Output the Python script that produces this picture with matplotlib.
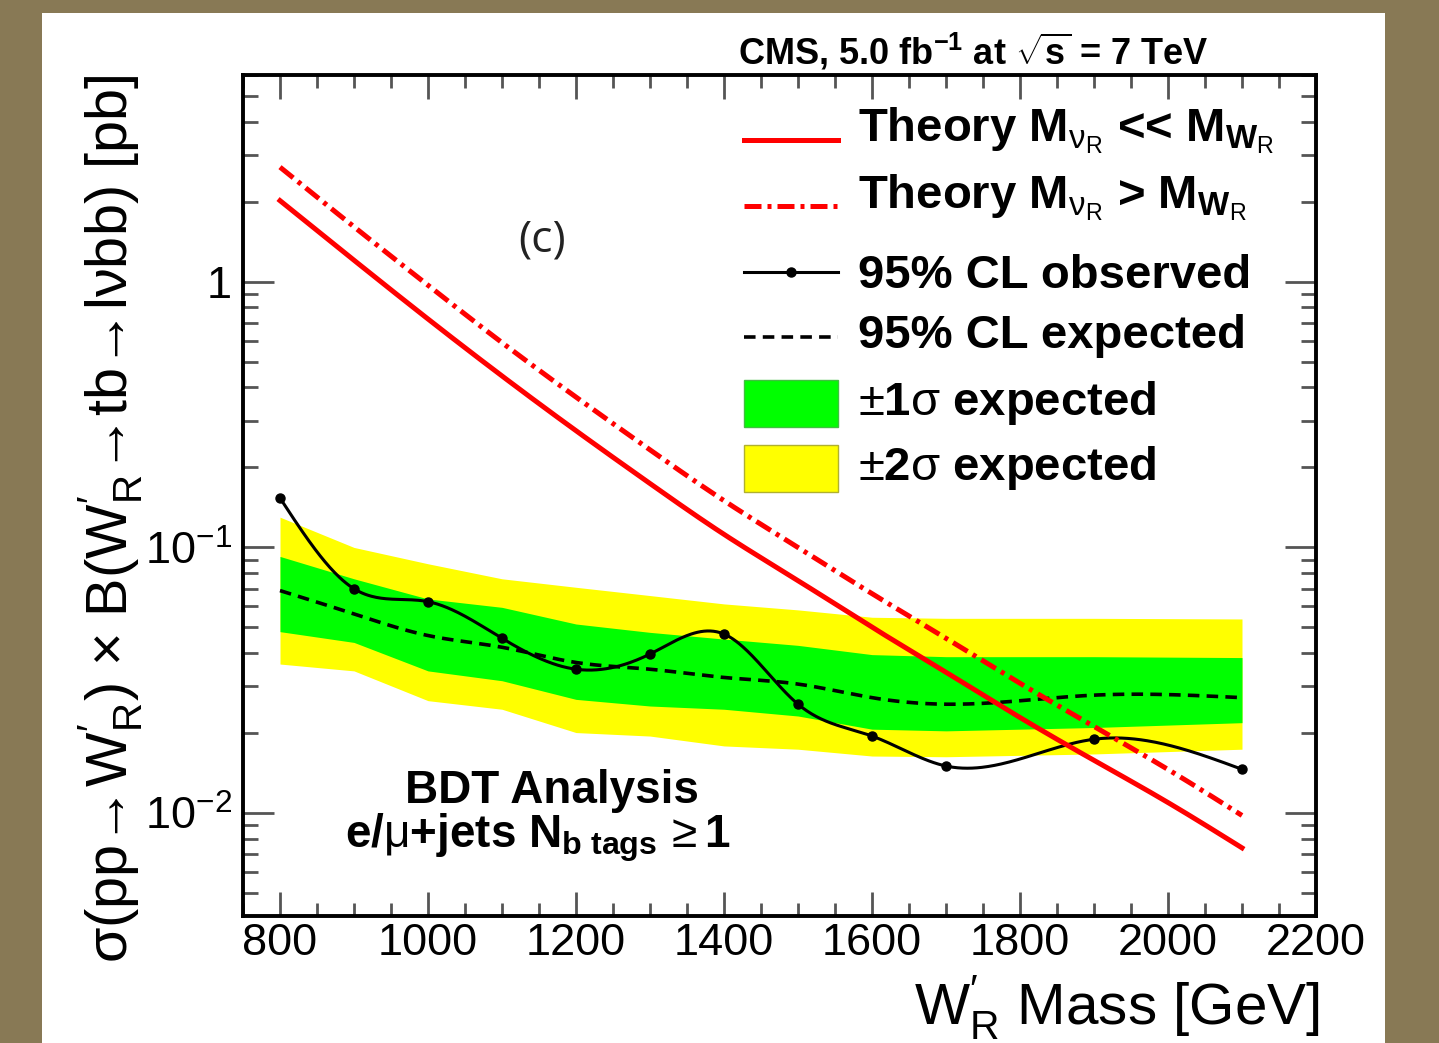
import numpy as np
import matplotlib
matplotlib.use("Agg")
import matplotlib.pyplot as plt
from matplotlib.patches import Rectangle
from matplotlib.ticker import LogLocator, FuncFormatter, NullFormatter, MultipleLocator

plt.rcParams['font.family'] = ['Liberation Sans', 'DejaVu Sans']
plt.rcParams['mathtext.fontset'] = 'custom'
plt.rcParams['mathtext.rm'] = 'Liberation Sans'
plt.rcParams['mathtext.bf'] = 'Liberation Sans:bold'
plt.rcParams['mathtext.it'] = 'Liberation Sans:italic'
plt.rcParams['mathtext.sf'] = 'Liberation Sans'

# ---------------- data ----------------
mass = [800, 900, 1000, 1100, 1200, 1300, 1400, 1500, 1600, 1700, 1900, 2100]
observed = [0.1535, 0.0699, 0.0625, 0.0455, 0.0348, 0.0397, 0.0472, 0.0257,
            0.0195, 0.01504, 0.01897, 0.01462]
expected = [0.0688, 0.0562, 0.0466, 0.0421, 0.0369, 0.0348, 0.0324, 0.0306,
            0.0272, 0.0257, 0.0278, 0.0272]
one_sigma_up = [0.0925, 0.0762, 0.0640, 0.0595, 0.0515, 0.0479, 0.0452, 0.0428,
                0.0395, 0.0388, 0.0388, 0.0385]
one_sigma_dn = [0.0482, 0.0439, 0.0343, 0.0315, 0.0268, 0.0253, 0.0246, 0.0232,
                0.0207, 0.0204, 0.0210, 0.0219]
two_sigma_up = [0.130, 0.100, 0.0868, 0.0762, 0.0708, 0.0659, 0.0613, 0.0582,
                0.0546, 0.0541, 0.0541, 0.0538]
two_sigma_dn = [0.0364, 0.0343, 0.0265, 0.0246, 0.0201, 0.0195, 0.0179, 0.0174,
                0.0164, 0.0163, 0.0167, 0.0174]

theory_mass = [800, 900, 1000, 1100, 1200, 1300, 1400, 1500, 1600, 1700, 1800,
               1900, 2000, 2100]
theory_light_nu = [2.02, 1.205, 0.724, 0.442, 0.275, 0.174, 0.112, 0.0750,
                   0.0501, 0.0339, 0.0229, 0.0158, 0.01096, 0.0074]
theory_heavy_nu = [2.70, 1.61, 0.97, 0.59, 0.368, 0.233, 0.150, 0.100,
                   0.0670, 0.0455, 0.0308, 0.0212, 0.0146, 0.0098]

x_ticks = [800, 1000, 1200, 1400, 1600, 1800, 2000, 2200]

legend_labels = [
    r"$\mathbf{Theory\ M}_{\mathrm{\nu}_{\mathrm{R}}}$ << $\mathbf{M}_{\mathbf{W}_{\mathrm{R}}}$",
    r"$\mathbf{Theory\ M}_{\mathrm{\nu}_{\mathrm{R}}}$ > $\mathbf{M}_{\mathbf{W}_{\mathrm{R}}}$",
    "95% CL observed",
    "95% CL expected",
    r"$\mathrm{\pm}\mathbf{1}\mathrm{σ}$ expected",
    r"$\mathrm{\pm}\mathbf{2}\mathrm{σ}$ expected",
]


def natural_spline_log(x, y, xs):
    x = np.asarray(x, float)
    y = np.log10(np.asarray(y, float))
    n = len(x)
    h = np.diff(x)
    A = np.zeros((n, n))
    b = np.zeros(n)
    A[0, 0] = A[-1, -1] = 1.0
    for i in range(1, n - 1):
        A[i, i - 1] = h[i - 1]
        A[i, i] = 2 * (h[i - 1] + h[i])
        A[i, i + 1] = h[i]
        b[i] = 3 * ((y[i + 1] - y[i]) / h[i] - (y[i] - y[i - 1]) / h[i - 1])
    c = np.linalg.solve(A, b)
    bb = (y[1:] - y[:-1]) / h - h * (2 * c[:-1] + c[1:]) / 3
    d = (c[1:] - c[:-1]) / (3 * h)
    idx = np.clip(np.searchsorted(x, xs) - 1, 0, n - 2)
    dx = xs - x[idx]
    ys = y[idx] + bb[idx] * dx + c[idx] * dx ** 2 + d[idx] * dx ** 3
    return 10 ** ys


W, H = 1439, 1043
fig = plt.figure(figsize=(W / 100, H / 100), dpi=100, facecolor='#887955')
fig.patches.append(Rectangle((42 / W, 0), (1385 - 42) / W, (H - 13) / H,
                             transform=fig.transFigure, facecolor='white',
                             edgecolor='none', zorder=-10))

ax = fig.add_axes([243 / W, (H - 916) / H, (1316 - 243) / W, (916 - 75) / H])
ax.set_yscale('log')
ax.set_xlim(750, 2200)
ax.set_ylim(0.0041, 6.0)

# bands
ax.fill_between(mass, two_sigma_dn, two_sigma_up, color='#ffff00', lw=0, zorder=1)
ax.fill_between(mass, one_sigma_dn, one_sigma_up, color='#00ff00', lw=0, zorder=2)

xs = np.linspace(800, 2100, 600)
ax.plot(xs, natural_spline_log(mass, expected, xs), color='black', lw=2.6,
        dashes=(3.2, 2.0), zorder=3)
ax.plot(xs, natural_spline_log(mass, observed, xs), color='black', lw=2.2, zorder=4)
ax.plot(mass, observed, 'o', color='black', ms=6.5, zorder=5)

ax.plot(xs, natural_spline_log(theory_mass, theory_light_nu, xs), color='#ff0000',
        lw=3.6, zorder=6)
ax.plot(xs, natural_spline_log(theory_mass, theory_heavy_nu, xs), color='#ff0000',
        lw=3.6, dashes=(3.4, 1.2, 0.8, 1.2), zorder=6)

# axes styling
for s in ax.spines.values():
    s.set_linewidth(2.8)
    s.set_color('black')
ax.xaxis.set_major_locator(matplotlib.ticker.FixedLocator(x_ticks))
ax.xaxis.set_minor_locator(MultipleLocator(50))
ax.yaxis.set_major_locator(LogLocator(base=10, numticks=10))
ax.yaxis.set_minor_locator(LogLocator(base=10, subs=np.arange(2, 10), numticks=20))
ax.yaxis.set_minor_formatter(NullFormatter())


def yfmt(v, pos):
    if abs(v - 1) < 1e-9:
        return '1'
    e = int(round(np.log10(v)))
    return r'$\mathregular{10^{%d}}$' % e


ax.yaxis.set_major_formatter(FuncFormatter(yfmt))
ax.xaxis.set_major_formatter(FuncFormatter(lambda v, p: '%d' % v))
ax.tick_params(which='both', direction='in', top=True, right=True,
               color='#555555', width=2.0)
ax.tick_params(axis='x', which='major', length=17.3, labelsize=32.5, pad=5)
ax.tick_params(axis='x', which='minor', length=9.4)
ax.tick_params(axis='y', which='major', length=22.3, labelsize=32.5, pad=8)
ax.tick_params(axis='y', which='minor', length=10.8)

# axis titles
fig.text(1320 / W, (H - 1024) / H, r"W$^{\prime}_{\mathregular{R}}$ Mass [GeV]",
         ha='right', va='baseline', fontsize=42)
fig.text(110 / W, (H - 75) / H,
         r"σ(pp→W$^{\prime}_{\mathregular{R}}$) × B(W$^{\prime}_{\mathregular{R}}$→tb→lνbb) [pb]",
         rotation=90, ha='center', va='top', fontsize=41.5)

# header
fig.text(738 / W, (H - 65) / H,
         r"CMS, 5.0 fb$^{\mathbf{-1}}$ at $\sqrt{\mathbf{s}}$ = 7 TeV",
         ha='left', va='baseline', fontsize=26, fontweight='bold')

# annotations inside axes
def fx(px):
    return (px - 243) / 1073


def fy(py):
    return (916 - py) / 841


ax.text(fx(542), fy(240), "(c)", transform=ax.transAxes, ha='center', va='center',
        fontsize=32, family=['Open Sans', 'DejaVu Sans'], color='#222222')
ax.text(fx(552), fy(803), "BDT Analysis", transform=ax.transAxes, ha='center',
        va='baseline', fontsize=33, fontweight='bold')
ax.text(fx(538), fy(848),
        r"$\mathbf{e/}\mathrm{\mu}\mathbf{+jets\ N}_{\mathbf{b\ tags}}\,\mathrm{\geq}\mathbf{1}$",
        transform=ax.transAxes, ha='center', va='baseline', fontsize=33)

# legend (drawn manually)
hx0, hx1, tx = fx(744), fx(838), fx(858)
ax.plot([hx0, hx1], [fy(140)] * 2, transform=ax.transAxes, color='#ff0000', lw=3.6,
        clip_on=False)
ax.plot([hx0, hx1], [fy(206)] * 2, transform=ax.transAxes, color='#ff0000', lw=3.6,
        dashes=(3.4, 1.2, 0.8, 1.2), clip_on=False)
ax.plot([hx0, hx1], [fy(271.7)] * 2, transform=ax.transAxes, color='black', lw=2.2,
        clip_on=False)
ax.plot([(hx0 + hx1) / 2], [fy(271.7)], 'o', transform=ax.transAxes, color='black',
        ms=6.5, clip_on=False)
ax.plot([hx0, hx1], [fy(336.7)] * 2, transform=ax.transAxes, color='black', lw=2.6,
        dashes=(3.2, 2.0), clip_on=False)
ax.add_patch(Rectangle((hx0, fy(427)), hx1 - hx0, fy(380) - fy(427),
                       transform=ax.transAxes, facecolor='#00ff00',
                       edgecolor='#40c040', lw=1.0, zorder=7))
ax.add_patch(Rectangle((hx0, fy(492)), hx1 - hx0, fy(445) - fy(492),
                       transform=ax.transAxes, facecolor='#ffff00',
                       edgecolor='#b0b030', lw=1.0, zorder=7))

baselines = [141.7, 208.3, 288.3, 348.3, 415, 480]
for lab, b in zip(legend_labels, baselines):
    ax.text(tx, fy(b), lab, transform=ax.transAxes, ha='left', va='baseline',
            fontsize=34, fontweight='bold', zorder=8)

fig.savefig('out.png', dpi=100, facecolor=fig.get_facecolor())
